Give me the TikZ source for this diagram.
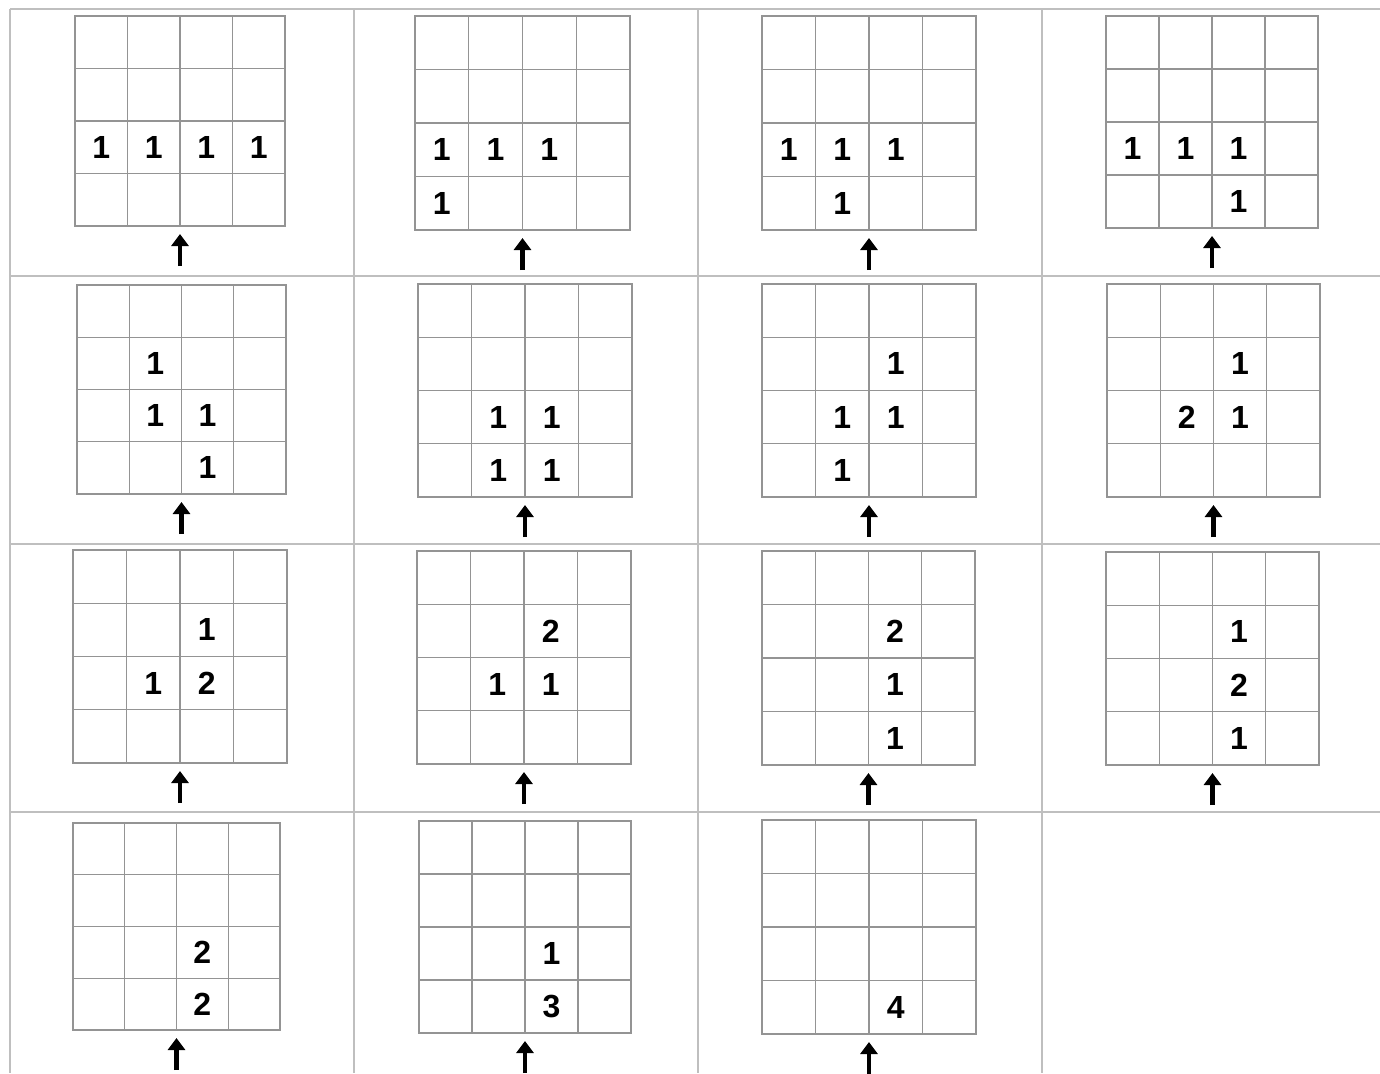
\documentclass[tikz,border=0pt]{standalone}
\usepackage{fontspec}
\setmainfont{Liberation Sans}
\usetikzlibrary{arrows.meta,calc}

\tikzset{
  tableline/.style={draw=black!25, line width=1pt},
  gridline/.style={draw=black!42, line width=0.6pt},
  cellnum/.style={font=\fontsize{16}{18}\selectfont\bfseries, inner sep=0pt},
  uparrow/.style={line width=2.4pt, -{Triangle[width=8.5pt,length=6pt]}}
}

% #1 name, #2 x, #3 y, #4 width, #5 height, #6 col/row/value
\newcommand{\cellgrid}[6]{%
  \begin{scope}[shift={(#2,#3)}, xscale=#4/4, yscale=#5/4]
    \draw[gridline] (0,0) rectangle (4,4);
    \foreach \k in {1,2,3} {
      \draw[gridline] (\k,0) -- (\k,4);
      \draw[gridline] (0,\k) -- (4,\k);
    }
    \foreach \c/\r/\v in {#6}
      \node[cellnum] (#1-\c-\r) at (\c+0.5,\r+0.5) {\v};
  \end{scope}
  \coordinate (#1-tail) at ({#2+#4/2},{#3+#5+40});
  \coordinate (#1-tip) at ({#2+#4/2},{#3+#5+8});
  \draw[uparrow] (#1-tail) -- (#1-tip);
}

\begin{document}
\begin{tikzpicture}[x=0.5pt, y=-0.5pt]
    \useasboundingbox (0,0) rectangle (1380,1073);
    % outer table
    \draw[tableline] (10,9) -- (1380,9);
    \foreach \ty in {276,544,812}
      \draw[tableline] (10,\ty) -- (1380,\ty);
    \foreach \tx in {10,354,698,1042}
      \draw[tableline] (\tx,9) -- (\tx,1073);
    % first row
    \cellgrid{pa}{75}{16}{210}{210}{0/2/1,1/2/1,2/2/1,3/2/1}
    \cellgrid{pb}{415}{16}{215}{214}{0/2/1,1/2/1,2/2/1,0/3/1}
    \cellgrid{pc}{762}{16}{214}{214}{0/2/1,1/2/1,2/2/1,1/3/1}
    \cellgrid{pd}{1106}{16}{212}{212}{0/2/1,1/2/1,2/2/1,2/3/1}
    % second row
    \cellgrid{pe}{77}{285}{209}{209}{1/1/1,1/2/1,2/2/1,2/3/1}
    \cellgrid{pf}{418}{284}{214}{213}{1/2/1,2/2/1,1/3/1,2/3/1}
    \cellgrid{pg}{762}{284}{214}{213}{2/1/1,1/2/1,2/2/1,1/3/1}
    \cellgrid{ph}{1107}{284}{213}{213}{2/1/1,1/2/2,2/2/1}
    % third row
    \cellgrid{pi}{73}{550}{214}{213}{2/1/1,1/2/1,2/2/2}
    \cellgrid{pj}{417}{551}{214}{213}{2/1/2,1/2/1,2/2/1}
    \cellgrid{pk}{762}{551}{213}{214}{2/1/2,2/2/1,2/3/1}
    \cellgrid{pl}{1106}{552}{213}{213}{2/1/1,2/2/2,2/3/1}
    % fourth row
    \cellgrid{pm}{73}{823}{207}{207}{2/2/2,2/3/2}
    \cellgrid{pn}{419}{821}{212}{212}{2/2/1,2/3/3}
    \cellgrid{po}{762}{820}{214}{214}{2/3/4}
\end{tikzpicture}
\end{document}
